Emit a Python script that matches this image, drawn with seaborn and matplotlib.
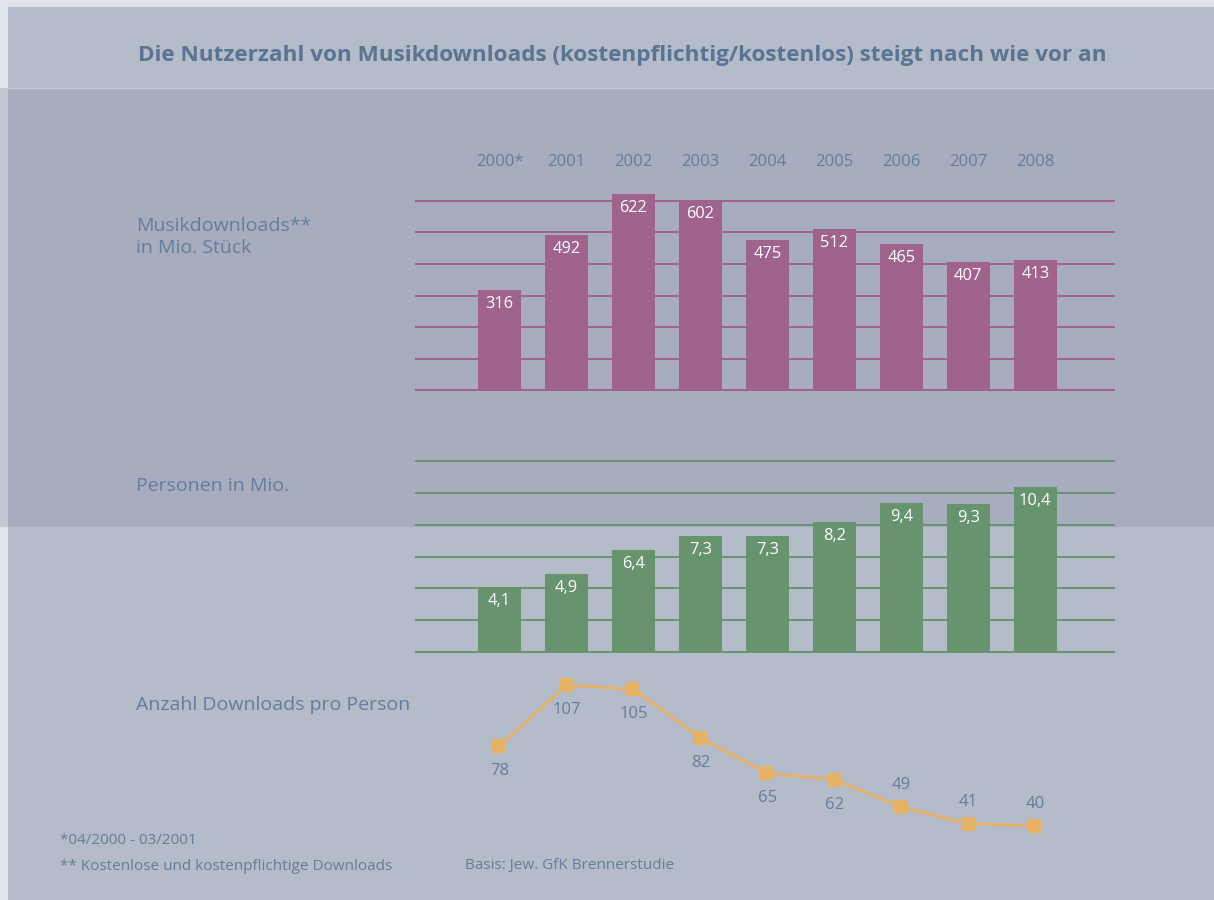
import matplotlib
matplotlib.use("Agg")
import matplotlib.pyplot as plt
from matplotlib.patches import Rectangle
import seaborn as sns
import numpy as np
import pandas as pd

# ---- data ----
years = ["2000*", "2001", "2002", "2003", "2004", "2005", "2006", "2007", "2008"]
downloads = [316, 492, 622, 602, 475, 512, 465, 407, 413]          # Mio. Stück
persons = [4.1, 4.9, 6.4, 7.3, 7.3, 8.2, 9.4, 9.3, 10.4]            # Mio.
per_person = [78, 107, 105, 82, 65, 62, 49, 41, 40]
label_above = [False, False, False, False, False, False, True, True, True]

title = "Die Nutzerzahl von Musikdownloads (kostenpflichtig/kostenlos) steigt nach wie vor an"
row_labels = ["Musikdownloads**\nin Mio. Stück", "Personen in Mio.", "Anzahl Downloads pro Person"]
foot1 = "*04/2000 - 03/2001"
foot2 = "** Kostenlose und kostenpflichtige Downloads"
foot3 = "Basis: Jew. GfK Brennerstudie"

# ---- style ----
sns.set_theme(style="white")
plt.rcParams['font.family'] = ['Open Sans', 'DejaVu Sans']

W, H = 1214, 900
PURPLE = "#a0638e"
GREEN = "#67946f"
ORANGE = "#e6b265"
TXT = "#647d9b"
TITLE = "#5a7493"
BG_LIGHT = "#b4bbc9"
BG_DARK = "#a7adbf"
EDGE = "#dfe3ea"

fig = plt.figure(figsize=(W / 100, H / 100), dpi=100)
fig.patch.set_facecolor(EDGE)

def fx(x):
    return x / W

def fy(y):
    return 1 - y / H

def rect(x0, y0, x1, y1, color):
    fig.add_artist(Rectangle((fx(x0), fy(y1)), (x1 - x0) / W, (y1 - y0) / H,
                             transform=fig.transFigure, color=color, lw=0, zorder=-10))

rect(8, 7, W, 88, BG_LIGHT)
rect(0, 88, W, 527, BG_DARK)
rect(8, 527, W, H, BG_LIGHT)
rect(0, 88, 8, 527, "#c3c7d1")
fig.add_artist(plt.Line2D([fx(8), 1], [fy(88), fy(88)], transform=fig.transFigure,
                          color="#c2c8d4", lw=1, zorder=-5))

X0, X1 = 415, 1115
XL = (-1.26, 9.19)
BW = 0.642

# ---- top bar chart ----
SC1 = 0.315  # px per unit
lo1, hi1 = -12, 660
ax1 = fig.add_axes([fx(X0), fy(390 - lo1 * SC1), (X1 - X0) / W, (hi1 - lo1) * SC1 / H])
df1 = pd.DataFrame({"year": years, "v": downloads})
sns.barplot(data=df1, x="year", y="v", order=years, color=PURPLE, saturation=1,
            width=BW, ax=ax1, linewidth=0, edgecolor="none")
ax1.set_ylim(lo1, hi1)
ax1.set_xlim(*XL)
ax1.set_yticks(np.arange(0, 601, 100))
ax1.grid(axis="y", color=PURPLE, lw=1.4)
ax1.set_axisbelow(True)

# ---- green bar chart ----
SC2 = 15.9
lo2, hi2 = -0.2, 12.6
ax2 = fig.add_axes([fx(X0), fy(652 - lo2 * SC2), (X1 - X0) / W, (hi2 - lo2) * SC2 / H])
df2 = pd.DataFrame({"year": years, "v": persons})
sns.barplot(data=df2, x="year", y="v", order=years, color=GREEN, saturation=1,
            width=BW, ax=ax2, linewidth=0, edgecolor="none")
ax2.set_ylim(lo2, hi2)
ax2.set_xlim(*XL)
ax2.set_yticks(np.arange(0, 12.1, 2))
ax2.grid(axis="y", color=GREEN, lw=1.4)
ax2.set_axisbelow(True)

for ax in (ax1, ax2):
    ax.set_facecolor("none")
    for s in ax.spines.values():
        s.set_visible(False)
    ax.tick_params(length=0, labelleft=False, labelbottom=False)
    ax.set_xlabel("")
    ax.set_ylabel("")

for i, v in enumerate(downloads):
    ax1.annotate(f"{v}", xy=(i, v), xytext=(0, -14), textcoords="offset pixels",
                 ha="center", va="center", color="white", fontsize=11.8)
    ax1.text(i, (390 - 162) / SC1, years[i], ha="center", va="center",
             color=TXT, fontsize=12)
for i, v in enumerate(persons):
    ax2.annotate(f"{v:.1f}".replace(".", ","), xy=(i, v), xytext=(0, -14),
                 textcoords="offset pixels", ha="center", va="center",
                 color="white", fontsize=11.8)

# ---- line chart ----
ax3 = fig.add_axes([fx(X0), fy(880), (X1 - X0) / W, 220 / H])
df3 = pd.DataFrame({"year": years, "v": per_person})
sns.lineplot(data=df3, x="year", y="v", sort=False, color=ORANGE, lw=2.1,
             marker="s", markersize=10.5, markeredgewidth=0, ax=ax3)
ax3.set_xlim(*XL)
ax3.set_ylim((909.8 - 880) / 2.1, (909.8 - 660) / 2.1)
ax3.axis("off")
for i, (v, up) in enumerate(zip(per_person, label_above)):
    ax3.annotate(f"{v}", xy=(i, v), xytext=(0, 22 if up else -25),
                 textcoords="offset pixels", ha="center", va="center",
                 color=TXT, fontsize=12)

# ---- texts ----
fig.text(fx(622), fy(56), title, ha="center", va="center", color=TITLE,
         fontsize=16.2, fontweight="bold")
fig.text(fx(136), fy(237), row_labels[0], ha="left", va="center", color=TXT,
         fontsize=14, linespacing=1.25)
fig.text(fx(136), fy(486), row_labels[1], ha="left", va="center", color=TXT, fontsize=14)
fig.text(fx(136), fy(705), row_labels[2], ha="left", va="center", color=TXT, fontsize=14)

fig.text(fx(60), fy(840), foot1, ha="left", va="center", color=TXT, fontsize=11)
fig.text(fx(60), fy(866), foot2, ha="left", va="center", color=TXT, fontsize=11)
fig.text(fx(465), fy(866), foot3, ha="left", va="center", color=TXT, fontsize=11)

fig.savefig("out.png", dpi=100, facecolor=fig.get_facecolor())
